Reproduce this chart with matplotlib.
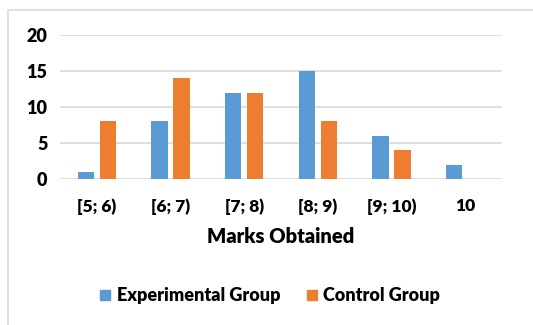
import numpy as np
import matplotlib.pyplot as plt
from matplotlib.patches import Rectangle
from matplotlib.lines import Line2D

plt.rcParams['font.family'] = ['Lato', 'DejaVu Sans']

categories = ['[5; 6)', '[6; 7)', '[7; 8)', '[8; 9)', '[9; 10)', '10']
experimental = [1, 8, 12, 15, 6, 2]
control = [8, 14, 12, 8, 4, 0]

blue = '#5B9BD5'
orange = '#ED7D31'
wt = 'heavy'

fig = plt.figure(figsize=(5.33, 3.25), dpi=100)
ax = fig.add_axes([60 / 533, 1 - 179 / 325, 442 / 533, 144 / 325])

x = np.arange(len(categories))
w = 0.22
ax.bar(x - 0.15, experimental, w, color=blue, zorder=3)
ax.bar(x + 0.15, control, w, color=orange, zorder=3)

ax.set_xlim(-0.5, len(categories) - 0.5)
ax.set_ylim(0, 20)
ax.set_yticks([0, 5, 10, 15, 20])
ax.set_xticks(x)
ax.set_xticklabels(categories, fontsize=12.5, fontweight=wt)
for t in ax.get_yticklabels():
    t.set_fontsize(13)
    t.set_fontweight(wt)
ax.tick_params(length=0, pad=9)
ax.tick_params(axis='x', pad=14)
ax.grid(axis='y', color='#D9D9D9', linewidth=1.2, zorder=0)
for s in ax.spines.values():
    s.set_visible(False)

ax.set_xlabel('Marks Obtained', fontsize=14.5, fontweight=wt, labelpad=9)

# square legend keys
handles = [Line2D([], [], marker='s', linestyle='', markersize=7.5, color=blue),
           Line2D([], [], marker='s', linestyle='', markersize=7.5, color=orange)]
leg = fig.legend(handles, ['Experimental Group', 'Control Group'],
                 loc='center', bbox_to_anchor=(0.507, 1 - 296 / 325), ncol=2,
                 frameon=False, prop={'size': 13, 'weight': wt},
                 handlelength=0.55, columnspacing=1.5, handletextpad=0.35)

# outer chart frame
fig.patches.append(Rectangle((8 / 533, -0.1), 1.1, 1 - 10 / 325 + 0.1,
                             transform=fig.transFigure, fill=False,
                             edgecolor='#D9D9D9', linewidth=1.2))

fig.savefig('out.png', dpi=100)
